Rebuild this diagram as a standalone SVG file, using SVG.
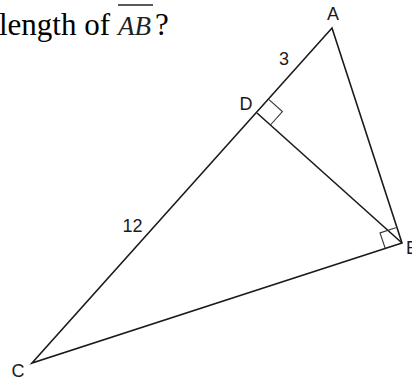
<svg xmlns="http://www.w3.org/2000/svg" width="412" height="383" viewBox="0 0 412 383">
<style>
.q{font-family:"Liberation Serif","Times New Roman",serif;font-size:31px;fill:#000}
.m{font-family:"Liberation Serif","Times New Roman",serif;font-style:italic;font-size:27px;fill:#222}
.lbl{font-family:"Liberation Sans",Arial,sans-serif;font-size:18px;fill:#1a1a1a;text-anchor:middle}
.ln{stroke:#1a1a1a;stroke-width:1.6;fill:none;stroke-linejoin:miter}
.rt{stroke:#333;stroke-width:1.1;fill:none}
</style>
<rect width="412" height="383" fill="#fff"/>
<g id="question">
<text class="q" x="-1" y="35">length of </text>
<text class="m" x="118" y="35">AB</text>
<line x1="118" y1="5" x2="153" y2="5" stroke="#222" stroke-width="1.6"/>
<text class="q" x="155" y="35">?</text>
</g>
<g id="connectors">
<path class="ln" d="M32,363 L332,28 L402,243 Z"/>
<line class="ln" x1="257" y1="113" x2="402" y2="243"/>
</g>
<g id="right-angle-D">
<path class="rt" d="M269,99.6 L282.4,111.6 L270.4,125"/>
</g>
<g id="right-angle-B">
<path class="rt" d="M395.8,227.8 L380,232.9 L385.2,248.3"/>
</g>
<g id="node-A"><text class="lbl" x="333" y="20">A</text></g>
<g id="node-B"><text class="lbl" x="406" y="254" style="text-anchor:start">B</text></g>
<g id="node-C"><text class="lbl" x="18" y="377">C</text></g>
<g id="node-D"><text class="lbl" x="246" y="110">D</text></g>
<g id="label-3"><text class="lbl" x="284" y="65">3</text></g>
<g id="label-12"><text class="lbl" x="132.5" y="232">12</text></g>
</svg>
